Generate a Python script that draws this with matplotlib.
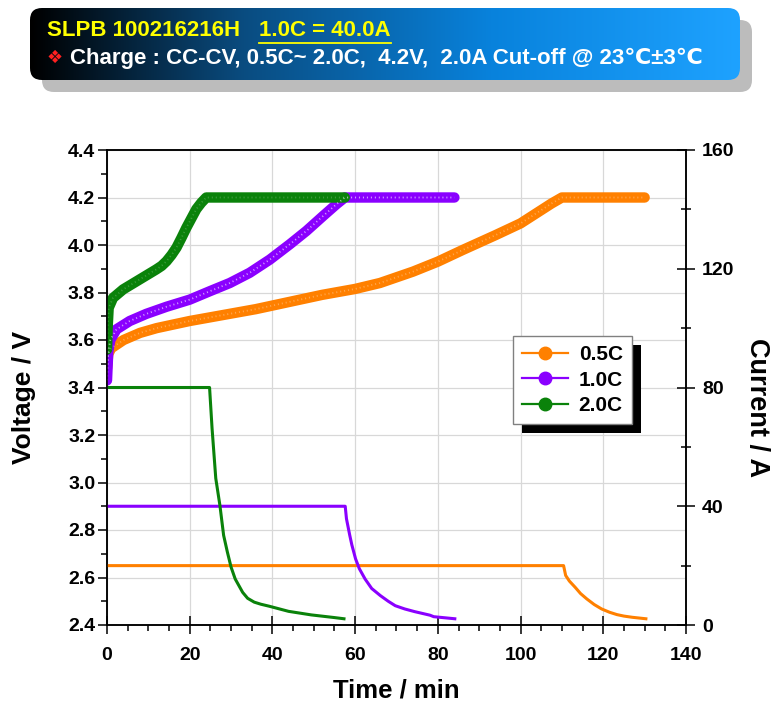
import numpy as np
import matplotlib
matplotlib.use('Agg')
import matplotlib.pyplot as plt
from matplotlib.patches import FancyBboxPatch, Rectangle
from matplotlib.colors import LinearSegmentedColormap
from matplotlib.lines import Line2D
from matplotlib.transforms import IdentityTransform
from matplotlib.ticker import MultipleLocator, FormatStrFormatter

# voltage vs time (min, V)
t_v05 = [0, 0.3, 1, 4, 8, 12, 20, 28, 36, 44, 52, 60, 66, 74, 80, 86, 94, 100, 105, 107.5, 110, 130]
v_05 = [3.48, 3.54, 3.565, 3.60, 3.63, 3.65, 3.68, 3.705, 3.73, 3.76, 3.79, 3.815, 3.84,
        3.888, 3.93, 3.979, 4.042, 4.091, 4.147, 4.175, 4.2, 4.2]
t_v10 = [0, 0.3, 0.8, 2.3, 5.5, 9.5, 14.4, 20, 24.8, 29.7, 34.5, 39.4, 44.2, 48.2, 52.3, 55.5, 57.5, 84]
v_10 = [3.43, 3.55, 3.60, 3.645, 3.68, 3.71, 3.74, 3.77, 3.805, 3.84, 3.883, 3.939, 4.003,
        4.059, 4.123, 4.172, 4.2, 4.2]
t_v20 = [0, 0.15, 0.4, 1.45, 3.9, 7.9, 11.9, 13.2, 14.4, 15.6, 16.8, 18.0, 19.2, 20.4, 21.6,
         22.8, 24.0, 57.5]
v_20 = [3.56, 3.65, 3.735, 3.777, 3.813, 3.855, 3.897, 3.912, 3.932, 3.958, 3.989, 4.03,
        4.073, 4.112, 4.151, 4.178, 4.2, 4.2]

# current vs time (min, A)
t_i05 = [0, 110.4, 110.9, 111.8, 113.2, 114.5, 116.0, 117.8, 119.6, 121.5, 123.3, 125.0, 127.0, 130.3]
i_05 = [20, 20, 16.7, 14.8, 12.7, 10.6, 8.8, 6.9, 5.4, 4.3, 3.5, 3.0, 2.6, 2.1]
t_i10 = [0, 57.6, 57.9, 58.7, 59.2, 60.1, 61.0, 62.4, 64.0, 66.1, 68.0, 69.7, 72.0, 74.4,
         78.1, 79.0, 84.1]
i_10 = [40, 40, 35.8, 30.2, 27.0, 22.3, 19.0, 15.5, 12.3, 9.9, 8.0, 6.5, 5.4, 4.5, 3.3, 2.8, 2.1]
t_i20 = [0, 24.8, 25.4, 26.3, 27.3, 28.2, 29.1, 30.0, 31.0, 32.8, 34.0, 35.6, 37.2, 39.3,
         43.9, 49.4, 55.0, 57.3]
i_20 = [80, 80, 66.3, 49.4, 40.3, 30.2, 24.6, 19.5, 15.5, 11.0, 9.0, 7.7, 7.0, 6.3, 4.6,
        3.4, 2.5, 2.1]

labels = ['0.5C', '1.0C', '2.0C']
colors = ['#ff8000', '#8a00ff', '#0a820a']
hl_alpha = [0.3, 0.6, 0.2]

plt.rcParams['font.family'] = ['Liberation Sans', 'DejaVu Sans']
plt.rcParams['font.weight'] = 'bold'
W, H = 778, 707

fig = plt.figure(figsize=(W / 100, H / 100), dpi=100)

# banner on top, drawn in pixel-like coords
axb = fig.add_axes([0, 0, 1, 1])
axb.set_axis_off()
axb.patch.set_visible(False)
shadow = FancyBboxPatch((42, 20), 710, 72, boxstyle='round,pad=0,rounding_size=12',
                        facecolor='#bcbcbc', edgecolor='none', zorder=1)
axb.add_patch(shadow)
box = FancyBboxPatch((30, 8), 710, 72, boxstyle='round,pad=0,rounding_size=12',
                     facecolor='none', edgecolor='none', zorder=1.5)
axb.add_patch(box)
cmap = LinearSegmentedColormap.from_list('banner', [(0, '#000000'), (0.3, '#0a4c80'),
                                                    (0.65, '#0882dc'), (1, '#1ea2ff')])
img = axb.imshow(np.linspace(0, 1, 256).reshape(1, -1), extent=(30, 740, 80, 8),
                 cmap=cmap, aspect='auto', interpolation='bilinear', zorder=2)
img.set_clip_path(box)
axb.set_xlim(0, W)
axb.set_ylim(H, 0)

axb.text(47, 31, 'SLPB 100216216H', color='#ffff00', fontsize=16,
         fontweight='bold', va='center', ha='left', zorder=3)
t_ul = axb.text(259, 31, '1.0C = 40.0A', color='#ffff00', fontsize=16,
                fontweight='bold', va='center', ha='left', zorder=3)
axb.text(47, 58, '\u2756', color='#ff2020', fontsize=13, family=['DejaVu Sans'],
         va='center', ha='left', zorder=3)
axb.text(70, 58, 'Charge : CC-CV, 0.5C~ 2.0C,  4.2V,  2.0A Cut-off @ 23\u2103\u00b13\u2103',
         color='white', fontsize=16, fontweight='bold', va='center', ha='left', zorder=3)

# main axes
ax = fig.add_axes([107 / W, 1 - 625 / H, 579 / W, 475 / H])
ax2 = ax.twinx()

for t, v, c, a in zip([t_v05, t_v10, t_v20], [v_05, v_10, v_20], colors, hl_alpha):
    ax.plot(t, v, color=c, lw=7.5, solid_capstyle='round', solid_joinstyle='round', zorder=3)
    ax.plot(t, v, color='white', alpha=a, lw=1.3, dashes=(0.6, 1.6), zorder=3.1)

for t, i, c in zip([t_i05, t_i10, t_i20], [i_05, i_10, i_20], colors):
    ax2.plot(t, i, color=c, lw=2.2)

ax.set_xlim(0, 140)
ax.set_ylim(2.4, 4.4)
ax2.set_ylim(0, 160)
ax.xaxis.set_major_locator(MultipleLocator(20))
ax.xaxis.set_minor_locator(MultipleLocator(5))
ax.yaxis.set_major_locator(MultipleLocator(0.2))
ax.yaxis.set_minor_locator(MultipleLocator(0.1))
ax.yaxis.set_major_formatter(FormatStrFormatter('%.1f'))
ax2.yaxis.set_major_locator(MultipleLocator(40))
ax2.yaxis.set_minor_locator(MultipleLocator(20))

ax.tick_params(axis='x', which='major', direction='inout', length=13, width=1.1, pad=9, labelsize=14)
ax.tick_params(axis='x', which='minor', direction='out', length=4.5, width=1.1)
ax.tick_params(axis='y', which='major', direction='out', length=6.5, width=1.1, pad=2, labelsize=14)
ax.tick_params(axis='y', which='minor', direction='out', length=4.5, width=1.1)
ax2.tick_params(axis='y', which='major', direction='inout', length=13, width=1.1, pad=5, labelsize=14)
ax2.tick_params(axis='y', which='minor', direction='inout', length=6.5, width=1.1)
for a_ in (ax, ax2):
    for s in a_.spines.values():
        s.set_linewidth(1.1)

ax.grid(which='major', color='#d8d8d8', lw=0.9)
ax.set_axisbelow(True)

fig.text(24 / W, 1 - 397 / H, 'Voltage / V', rotation=90, ha='center', va='center',
         fontsize=19, fontweight='bold')
fig.text(757 / W, 1 - 408 / H, 'Current / A', rotation=270, ha='center', va='center',
         fontsize=19.5, fontweight='bold')
fig.text(396 / W, 1 - 690 / H, 'Time / min', ha='center', va='center',
         fontsize=18.5, fontweight='bold')

handles = [Line2D([], [], color=c, lw=1.6, marker='o', markersize=9) for c in colors]
leg = ax2.legend(handles, labels, loc='upper left', bbox_to_anchor=((513 - 107) / 579, (625 - 336) / 475),
                 borderaxespad=0, fancybox=False, framealpha=1, edgecolor='#808080',
                 handlelength=2.2, handletextpad=0.5, borderpad=0.45, labelspacing=0.3,
                 prop={'size': 15, 'weight': 'bold'})
leg.get_frame().set_linewidth(1.0)

fig.canvas.draw()
bb = leg.get_window_extent()
ax2.add_patch(Rectangle((bb.x0 + 9, bb.y0 - 9), bb.width, bb.height, transform=IdentityTransform(),
                        facecolor='black', edgecolor='none', zorder=4.9, clip_on=False))
ub = t_ul.get_window_extent()
axb.plot([ub.x0, ub.x1], [H - ub.y0 + 1, H - ub.y0 + 1], color='#ffff00', lw=1.3, zorder=3)

fig.savefig('out.png', dpi=100)
